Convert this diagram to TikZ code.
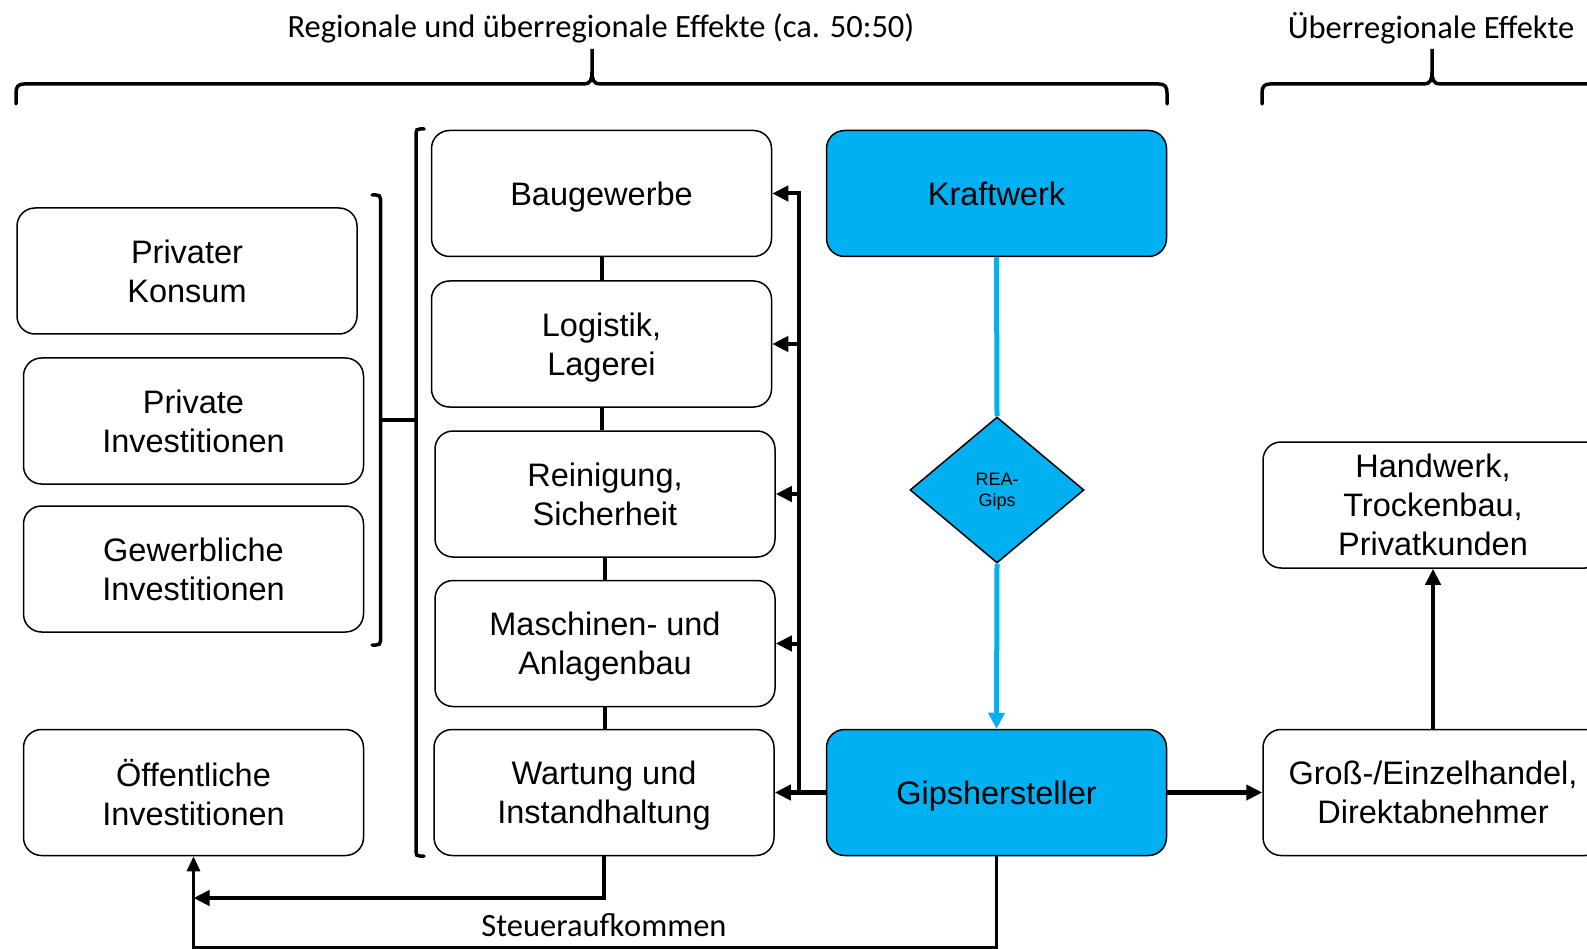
\documentclass[tikz,border=0pt]{standalone}
\usepackage{fontspec}
\setmainfont{Liberation Sans}
\newfontfamily\boxfont{Liberation Sans}
\newfontfamily\calfont{Carlito}
\usetikzlibrary{arrows.meta,shapes.geometric}
\definecolor{gblue}{HTML}{00B0F0}
\begin{document}
\begin{tikzpicture}[x=1pt,y=-1pt,
  box/.style={draw, line width=1.5pt, rounded corners=18pt, minimum width=340pt, minimum height=126pt,
    align=center, inner sep=0pt, text depth=-2pt, font=\boxfont\fontsize{32.5}{39}\selectfont},
  bluebox/.style={box, fill=gblue},
  hdr/.style={font=\calfont\fontsize{32.5}{39}\selectfont, inner sep=0pt},
  conn/.style={line width=4.5pt, -{Triangle[length=16pt,width=15pt]}},
  plain/.style={line width=4pt},
  blueline/.style={draw=gblue, line width=5pt},
  brk/.style={line width=3.5pt, line cap=round}
]
\useasboundingbox (0,0) rectangle (1587,949);

% headers
\node[hdr] (t1) at (601,28) {Regionale und überregionale Effekte (ca. 50:50)};
\node[hdr] (t2) at (1431,28) {Überregionale Effekte};

% braces
\draw[brk] (16,104) -- (16,93) .. controls (16,87) and (18,84) .. (24,84) -- (584,84)
  .. controls (590,84) and (592,80) .. (592,72) -- (592,49) -- (592,72)
  .. controls (592,80) and (594,84) .. (600,84) -- (1159,84)
  .. controls (1165,84) and (1167,87) .. (1167,93) -- (1167,104);
\draw[brk] (1262,104) -- (1262,93) .. controls (1262,87) and (1264,84) .. (1270,84) -- (1424,84)
  .. controls (1430,84) and (1432,80) .. (1432,72) -- (1432,49) -- (1432,72)
  .. controls (1432,80) and (1434,84) .. (1440,84) -- (1594,84)
  .. controls (1600,84) and (1602,87) .. (1602,93) -- (1602,104);

% brackets
\draw[brk] (424,129) -- (420,129) .. controls (417,129) and (416,130) .. (416,133) -- (416,852)
  .. controls (416,855) and (417,856) .. (420,856) -- (424,856);
\draw[brk] (372,195) -- (376,195) .. controls (379,195) and (380.5,196) .. (380.5,199) -- (380.5,641)
  .. controls (380.5,644) and (379,645) .. (376,645) -- (372,645);
\draw[brk] (380.5,420) -- (416,420);

% boxes
\node[box] (pk) at (187,271) {Privater\\Konsum};
\node[box] (pi) at (193.5,421) {Private\\Investitionen};
\node[box] (gi) at (193.5,569) {Gewerbliche\\Investitionen};
\node[box] (oi) at (193.5,792.5) {Öffentliche\\Investitionen};

\node[box] (bg) at (601.5,193.5) {Baugewerbe};
\node[box] (lo) at (601.5,344) {Logistik,\\Lagerei};
\node[box] (re) at (605,494) {Reinigung,\\Sicherheit};
\node[box] (ma) at (605,643.5) {Maschinen- und\\Anlagenbau};
\node[box] (wa) at (604,792.5) {Wartung und\\Instandhaltung};

\node[bluebox] (kw) at (996.5,193.5) {Kraftwerk};
\node[bluebox] (gh) at (996.5,792.5) {Gipshersteller};
\node[draw, line width=1.5pt, fill=gblue, diamond, minimum width=174pt, minimum height=146pt, inner sep=0pt,
  align=center, text depth=-2pt, font=\boxfont\fontsize{18}{21.5}\selectfont] (dia) at (997,490) {REA-\\Gips};

\node[box] (hw) at (1433,505) {Handwerk,\\Trockenbau,\\Privatkunden};
\node[box] (gr) at (1433,792.5) {Groß-/Einzelhandel,\\Direktabnehmer};

% stems between middle boxes
\draw[plain] (bg.south) -- (lo.north);
\draw[plain] (lo.south) -- (lo.south |- re.north);
\draw[plain] (re.south) -- (re.south |- ma.north);
\draw[plain] (ma.south) -- (ma.south |- wa.north);

% bus
\coordinate (busb) at (798.5,792.5);
\draw[conn] (gh.west) -- (wa.east);
\draw[conn, line width=4pt] (busb) |- (bg.east);
\draw[conn, line width=4pt] (busb |- lo.east) -- (lo.east);
\draw[conn, line width=4pt] (busb |- re.east) -- (re.east);
\draw[conn, line width=4pt] (busb |- ma.east) -- (ma.east);

% blue flow
\draw[blueline] (kw.south) -- (dia.north);
\draw[blueline, -{Triangle[length=16pt,width=16pt]}] (dia.south) -- (gh.north);

% right side
\draw[conn] (gh.east) -- (gr.west);
\draw[conn] (gr.north) -- (hw.south);

% bottom
\coordinate (tw) at (193.5,898);
\draw[line width=4.5pt, -{Triangle[length=16pt,width=15pt]}] (wa.south) |- (tw);
\draw[line width=3pt, -{Triangle[length=15pt,width=13pt]}] (gh.south) -- ++(0,91) -| (oi.south);
\node[hdr] (st) at (604,925) {Steueraufkommen};
\end{tikzpicture}
\end{document}
